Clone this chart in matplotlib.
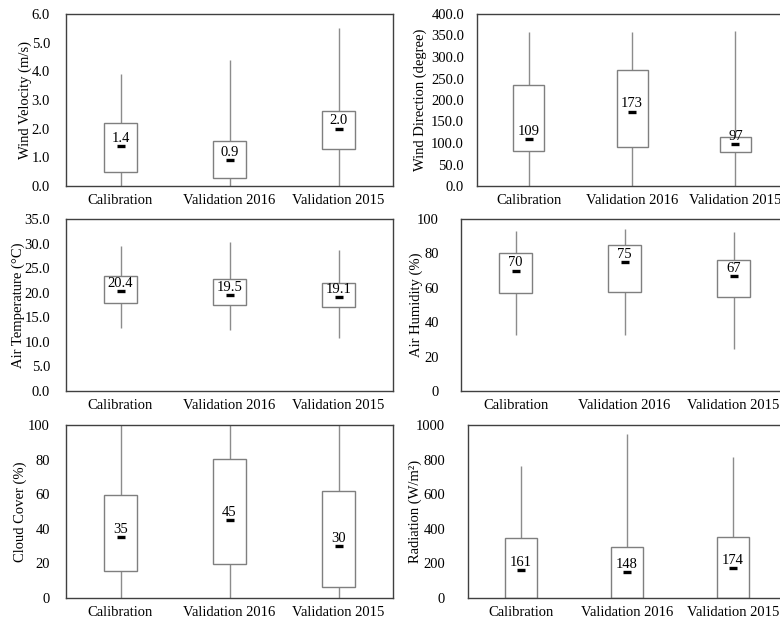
import numpy as np
import matplotlib.pyplot as plt
from matplotlib.ticker import FormatStrFormatter, MultipleLocator

plt.rcParams['font.family'] = ['Liberation Serif', 'DejaVu Serif']
plt.rcParams['font.size'] = 10.5

categories = ["Calibration", "Validation 2016", "Validation 2015"]

# per panel: min, q1, q3, max, mean
wind_vel_min = [0.0, 0.0, 0.0]
wind_vel_q1 = [0.48, 0.29, 1.28]
wind_vel_q3 = [2.2, 1.58, 2.63]
wind_vel_max = [3.9, 4.39, 5.51]
wind_vel_mean = [1.4, 0.9, 2.0]

wind_dir_min = [0, 0, 0]
wind_dir_q1 = [82, 91, 78]
wind_dir_q3 = [236, 270, 113]
wind_dir_max = [358, 358, 360]
wind_dir_mean = [109, 173, 97]

air_temp_min = [12.9, 12.4, 10.7]
air_temp_q1 = [18.0, 17.6, 17.0]
air_temp_q3 = [23.3, 22.7, 21.9]
air_temp_max = [29.5, 30.3, 28.7]
air_temp_mean = [20.4, 19.5, 19.1]

humidity_min = [32.5, 32.5, 24.7]
humidity_q1 = [56.7, 57.7, 54.8]
humidity_q3 = [80, 84.7, 75.9]
humidity_max = [93, 94, 92.6]
humidity_mean = [70, 75, 67]

cloud_min = [0, 0, 0]
cloud_q1 = [15.8, 19.9, 6.6]
cloud_q3 = [59.7, 80.3, 61.6]
cloud_max = [100, 100, 100]
cloud_mean = [35, 45, 30]

rad_min = [0, 0, 0]
rad_q1 = [0, 0, 0]
rad_q3 = [344, 293, 351]
rad_max = [761, 946, 814]
rad_mean = [161, 148, 174]

panels = [
    ("Wind Velocity (m/s)", wind_vel_min, wind_vel_q1, wind_vel_q3, wind_vel_max, wind_vel_mean, 6.0, 1.0, "%.1f", "%.1f"),
    ("Wind Direction (degree)", wind_dir_min, wind_dir_q1, wind_dir_q3, wind_dir_max, wind_dir_mean, 400.0, 50.0, "%.1f", "%.0f"),
    ("Air Temperature (\u00b0C)", air_temp_min, air_temp_q1, air_temp_q3, air_temp_max, air_temp_mean, 35.0, 5.0, "%.1f", "%.1f"),
    ("Air Humidity (%)", humidity_min, humidity_q1, humidity_q3, humidity_max, humidity_mean, 100, 20, "%.0f", "%.0f"),
    ("Cloud Cover (%)", cloud_min, cloud_q1, cloud_q3, cloud_max, cloud_mean, 100, 20, "%.0f", "%.0f"),
    ("Radiation (W/m\u00b2)", rad_min, rad_q1, rad_q3, rad_max, rad_mean, 1000, 200, "%.0f", "%.0f"),
]

W, H = 780, 621
# layout in pixels: left, top, right, bottom, y tick gap, y label right edge
rects = [
    (66, 14, 393, 186, 16, 32), (477, 14, 787, 186, 13, 427),
    (66, 219, 393, 391, 16, 25), (461, 219, 788, 391, 22, 423),
    (66, 425, 393, 598, 16, 27), (468, 425, 786, 598, 23, 422),
]

fig = plt.figure(figsize=(W / 100, H / 100), dpi=100)

for (label, lo, q1, q3, hi, mean, ymax, step, tickfmt, meanfmt), (l, t, r, b, gap, lab) in zip(panels, rects):
    ax = fig.add_axes([l / W, 1 - b / H, (r - l) / W, (b - t) / H])
    x = np.arange(len(categories))
    ax.vlines(x, lo, hi, color="#8c8c8c", lw=1.0, zorder=1)
    ax.bar(x, np.array(q3) - np.array(q1), bottom=q1, width=0.3,
           facecolor="white", edgecolor="#7f7f7f", lw=1.0, zorder=2)
    ax.plot(x, mean, ls="none", marker="_", ms=5.8, mew=2.4, color="black", zorder=3)
    for xi, m in zip(x, mean):
        ax.annotate(meanfmt % m, (xi, m), xytext=(0, 3), textcoords="offset points",
                    ha="center", va="baseline", fontsize=10.5, zorder=4)
    ax.set_xlim(-0.5, len(categories) - 0.5)
    ax.set_ylim(0, ymax)
    ax.yaxis.set_major_locator(MultipleLocator(step))
    ax.yaxis.set_major_formatter(FormatStrFormatter(tickfmt))
    ax.set_xticks(x)
    ax.set_xticklabels(categories)
    ax.tick_params(axis="x", length=0, labelsize=10.5, pad=6)
    ax.tick_params(axis="y", length=0, labelsize=10.5, pad=gap * 0.72)
    ax.set_ylabel(label, fontsize=10.5)
    ax.yaxis.set_label_coords((lab - l) / (r - l), 0.5)
    for s in ax.spines.values():
        s.set_color("#404040")
        s.set_linewidth(1.0)

fig.savefig("out.png", dpi=100)
